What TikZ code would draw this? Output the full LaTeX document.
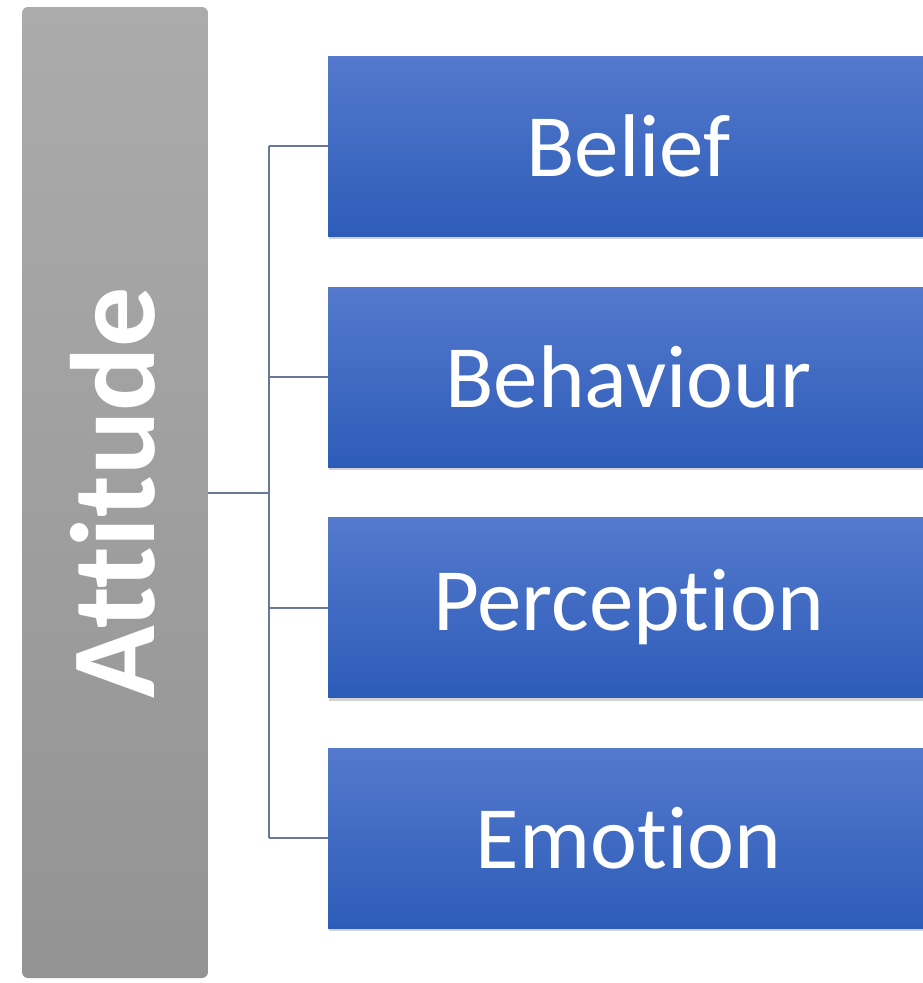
\documentclass[tikz,border=0pt]{standalone}
\usepackage{fontspec}
\setmainfont{Carlito}[RawFeature={-liga}]
\usetikzlibrary{shadows}
\definecolor{grayTop}{HTML}{ABABAB}
\definecolor{grayBot}{HTML}{939393}
\definecolor{blueTop}{HTML}{5479CD}
\definecolor{blueBot}{HTML}{2D5CB8}
\definecolor{linkcol}{HTML}{6A7898}
\tikzset{
  attbox/.style={rectangle, rounded corners=6pt, top color=grayTop, bottom color=grayBot,
    minimum width=186pt, minimum height=971pt, inner sep=0pt},
  itembox/.style={rectangle, top color=blueTop, bottom color=blueBot,
    minimum width=595pt, minimum height=180pt, inner sep=0pt, text=white,
    font=\fontsize{89}{90}\selectfont,
    drop shadow={shadow xshift=1pt, shadow yshift=-3pt, opacity=0.35}},
  link/.style={draw=linkcol, line width=2pt}
}
\begin{document}
\begin{tikzpicture}[x=1pt,y=-1pt]
\useasboundingbox (0,0) rectangle (923,983);
\fill[white] (0,0) rectangle (923,983);
\node[attbox] (att) at (115,492.5) {};
\node[rotate=90, text=white, font=\fontsize{120}{122}\selectfont\bfseries] (attlabel) at (113,492.5) {Attitude};
\node[itembox] (b1) at (625.5,146) {\hspace*{6pt}Belief};
\node[itembox] (b2) at (625.5,377) {\hspace*{6pt}Behaviour};
\node[itembox] (b3) at (625.5,607.5) {\hspace*{6pt}Perception};
\node[itembox] (b4) at (625.5,838) {\hspace*{6pt}Emotion};
\coordinate (hub) at (269,492.5);
\draw[link] (att.east) -- (hub);
\draw[link] (hub |- b1.west) -- (hub |- b4.west);
\foreach \b in {b1,b2,b3,b4} \draw[link] (hub |- \b.west) -- (\b.west);
\end{tikzpicture}
\end{document}
